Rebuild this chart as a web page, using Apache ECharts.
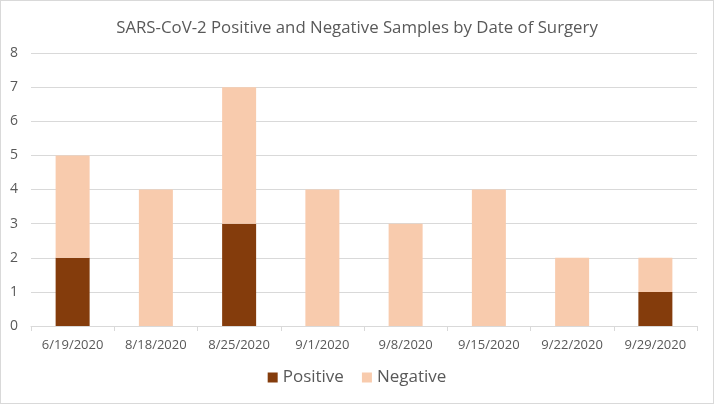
<!DOCTYPE html>
<html><head><meta charset="utf-8">
<script src="https://cdn.jsdelivr.net/npm/echarts@6/dist/echarts.min.js"></script>
<style>html,body{margin:0;padding:0;background:#fff}#c{width:712px;height:402px;border:1px solid #d9d9d9}</style>
</head><body><div id="c"></div>
<script>
const categories = ['6/19/2020','8/18/2020','8/25/2020','9/1/2020','9/8/2020','9/15/2020','9/22/2020','9/29/2020'];
const positive = [2,0,3,0,0,0,0,1];
const negative = [3,4,4,4,3,4,2,1];
const chart = echarts.init(document.getElementById('c'));
const font = 'Open Sans';
chart.setOption({
  animation:false,
  title:{text:'SARS-CoV-2 Positive and Negative Samples by Date of Surgery',left:'center',top:14,
    textStyle:{color:'#595959',fontSize:16.8,fontWeight:'normal',fontFamily:font}},
  grid:{left:30,right:16,top:52,bottom:77},
  legend:{bottom:12,left:'center',itemWidth:10,itemHeight:10,itemGap:18,icon:'rect',
    textStyle:{color:'#595959',fontSize:17,fontFamily:font}},
  xAxis:{type:'category',data:categories,
    axisLine:{lineStyle:{color:'#d9d9d9'}},
    axisTick:{show:true,alignWithLabel:false,length:5,lineStyle:{color:'#d9d9d9'}},
    axisLabel:{color:'#595959',fontSize:13,fontFamily:font,margin:13}},
  yAxis:{type:'value',min:0,max:8,interval:1,
    axisLine:{show:false},axisTick:{show:false},
    splitLine:{lineStyle:{color:'#d9d9d9'}},
    axisLabel:{color:'#595959',fontSize:14,fontFamily:font,margin:21,align:'left'}},
  series:[
    {name:'Positive',type:'bar',stack:'s',data:positive,barWidth:34,itemStyle:{color:'#843C0C'}},
    {name:'Negative',type:'bar',stack:'s',data:negative,barWidth:34,itemStyle:{color:'#F8CBAD'}}
  ]
});
</script></body></html>
